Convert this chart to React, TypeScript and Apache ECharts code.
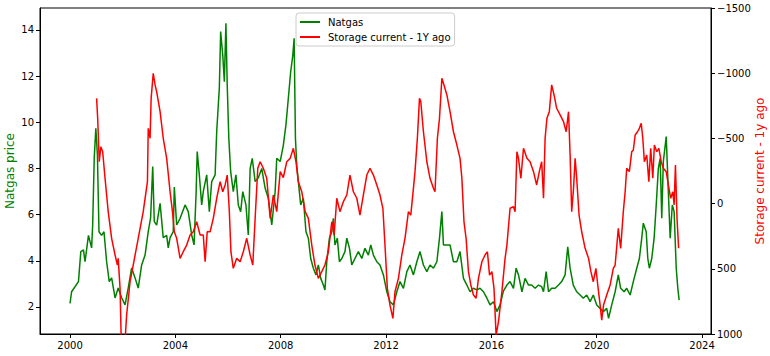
import React, { useEffect, useRef } from "react";
import * as echarts from "echarts";

// Natgas price (left axis)
const natgasYears = [
  2000.0, 2000.06, 2000.32, 2000.41, 2000.51, 2000.57, 2000.7, 2000.82, 2000.86, 2000.92, 2000.98,
  2001.04, 2001.1, 2001.2, 2001.29, 2001.39, 2001.49, 2001.58, 2001.71, 2001.83, 2001.96,
  2002.09, 2002.21, 2002.34, 2002.47, 2002.59, 2002.72, 2002.85, 2002.97,
  2003.06, 2003.14, 2003.2, 2003.29, 2003.42, 2003.54, 2003.67, 2003.73, 2003.8, 2003.92, 2003.96,
  2004.05, 2004.18, 2004.37, 2004.49, 2004.62, 2004.71, 2004.79, 2004.83, 2004.91,
  2005.0, 2005.06, 2005.19, 2005.29, 2005.38, 2005.51, 2005.57, 2005.67, 2005.72, 2005.8, 2005.86, 2005.92, 2005.97,
  2006.03, 2006.1, 2006.2, 2006.3, 2006.39, 2006.48, 2006.56, 2006.68, 2006.77, 2006.84, 2006.92,
  2007.03, 2007.15, 2007.28, 2007.41, 2007.53, 2007.66, 2007.79, 2007.85, 2007.98,
  2008.1, 2008.2, 2008.29, 2008.38, 2008.46, 2008.51, 2008.56, 2008.61, 2008.67, 2008.76, 2008.86, 2008.96,
  2009.05, 2009.14, 2009.24, 2009.34, 2009.43, 2009.52, 2009.62, 2009.68, 2009.75, 2009.85, 2009.94,
  2010.0, 2010.06, 2010.15, 2010.23, 2010.32, 2010.44, 2010.51, 2010.61, 2010.7, 2010.82, 2010.95,
  2011.08, 2011.2, 2011.33, 2011.42, 2011.52, 2011.65, 2011.77, 2011.9,
  2012.03, 2012.15, 2012.28, 2012.41, 2012.53, 2012.66, 2012.79, 2012.91,
  2013.04, 2013.17, 2013.29, 2013.42, 2013.55, 2013.67, 2013.8, 2013.93,
  2014.03, 2014.12, 2014.18, 2014.31, 2014.43, 2014.56, 2014.69, 2014.81, 2014.94,
  2015.07, 2015.19, 2015.32, 2015.45, 2015.57, 2015.7, 2015.83, 2015.95,
  2016.08, 2016.21, 2016.33, 2016.46, 2016.59, 2016.71, 2016.84, 2016.94,
  2017.03, 2017.16, 2017.28, 2017.41, 2017.53, 2017.66, 2017.79, 2017.91, 2017.98,
  2018.08, 2018.17, 2018.29, 2018.42, 2018.55, 2018.67, 2018.8, 2018.9, 2018.99,
  2019.11, 2019.24, 2019.37, 2019.49, 2019.62, 2019.75, 2019.87,
  2020.0, 2020.13, 2020.25, 2020.38, 2020.45, 2020.57, 2020.7, 2020.82, 2020.91,
  2021.04, 2021.14, 2021.27, 2021.39, 2021.52, 2021.62, 2021.71, 2021.77, 2021.88, 2021.94,
  2022.0, 2022.09, 2022.18, 2022.26, 2022.34, 2022.41, 2022.47, 2022.53, 2022.64, 2022.7, 2022.79, 2022.87, 2022.94,
  2023.02, 2023.08, 2023.13,
];
const natgasPrice = [
  2.16, 2.66, 3.1, 4.4, 4.47, 3.96, 5.1, 4.56, 5.55, 8.46, 9.74,
  8.6, 5.26, 5.1, 5.26, 3.96, 3.1, 3.26, 2.39, 2.82, 2.4,
  2.09, 2.82, 3.69, 3.26, 2.82, 3.82, 4.25, 5.26,
  5.86, 8.08, 5.7, 5.55, 6.49, 5.0, 5.1, 4.56, 5.0, 5.26, 7.2,
  5.55, 5.84, 6.42, 6.13, 5.12, 4.69, 7.0, 8.73, 7.72,
  6.42, 7.0, 7.72, 6.13, 7.43, 7.72, 9.6, 11.48, 13.93, 12.9, 11.76, 14.29, 11.6,
  9.3, 7.86, 7.0, 7.72, 6.42, 6.13, 7.0, 6.42, 5.12, 8.0, 8.44,
  7.43, 7.6, 8.0, 7.14, 6.71, 5.55, 7.0, 8.44, 8.3,
  9.0, 9.9, 11.04, 12.2, 12.9, 13.64, 9.3, 8.15, 7.43, 6.42, 6.71, 5.26,
  4.98, 4.1, 3.68, 3.39, 3.82, 3.24, 2.95, 2.74, 3.96, 4.98, 5.26,
  5.84, 4.69, 4.98, 3.96, 4.1, 4.4, 4.98, 4.55, 3.82, 4.1, 4.4,
  4.1, 4.54, 4.25, 4.69, 4.25, 3.96, 3.82, 3.39,
  2.66, 2.23, 2.09, 2.66, 3.1, 2.81, 3.53, 3.82,
  3.39, 3.96, 4.4, 3.82, 3.53, 3.82, 3.68, 3.96,
  4.98, 6.13, 4.69, 4.69, 4.69, 3.96, 3.96, 4.4, 3.24,
  2.95, 2.66, 2.81, 2.74, 2.81, 2.66, 2.38, 2.09,
  2.23, 1.8, 2.09, 2.7, 2.95, 3.1, 2.81, 3.68,
  3.39, 2.66, 3.24, 2.95, 2.95, 2.81, 2.95, 2.88, 2.66,
  3.53, 2.66, 2.81, 2.81, 2.95, 3.1, 3.39, 4.61, 3.68,
  2.95, 2.66, 2.52, 2.38, 2.52, 2.23, 2.52,
  2.09, 1.94, 1.8, 1.94, 1.51, 2.09, 2.66, 3.39, 2.81,
  2.66, 2.81, 2.52, 3.1, 3.68, 4.1, 4.98, 5.63, 5.26, 4.1,
  3.68, 4.1, 4.98, 6.42, 8.0, 8.44, 5.84, 8.3, 9.38, 7.58, 4.98, 6.42, 6.13,
  3.68, 2.81, 2.3,
];

// Storage current minus one year ago (right axis, inverted)
const storageYears = [
  2001.01, 2001.05, 2001.11, 2001.17, 2001.24, 2001.33, 2001.45, 2001.58, 2001.71, 2001.8, 2001.83, 2001.9, 2001.94,
  2002.01, 2002.09, 2002.15, 2002.28, 2002.4, 2002.59, 2002.78, 2002.94, 2002.97,
  2003.04, 2003.08, 2003.16, 2003.23, 2003.29, 2003.42, 2003.54, 2003.67, 2003.8, 2003.89, 2003.96,
  2004.05, 2004.18, 2004.3, 2004.43, 2004.56, 2004.68, 2004.81, 2004.94,
  2005.06, 2005.13, 2005.21, 2005.32, 2005.44, 2005.57, 2005.7, 2005.8, 2005.89, 2005.97,
  2006.05, 2006.11, 2006.2, 2006.33, 2006.46, 2006.58, 2006.71, 2006.84, 2006.94,
  2007.03, 2007.13, 2007.22, 2007.34, 2007.47, 2007.6, 2007.72, 2007.85, 2007.98,
  2008.1, 2008.23, 2008.36, 2008.48, 2008.58, 2008.67, 2008.8, 2008.93,
  2009.05, 2009.18, 2009.3, 2009.43, 2009.56, 2009.68, 2009.81, 2009.94,
  2010.03, 2010.13, 2010.25, 2010.38, 2010.51, 2010.63, 2010.76, 2010.89,
  2011.01, 2011.14, 2011.27, 2011.39, 2011.52, 2011.65, 2011.77, 2011.88, 2011.96,
  2012.05, 2012.15, 2012.26, 2012.34, 2012.47, 2012.6, 2012.72, 2012.85, 2012.94,
  2013.04, 2013.1, 2013.19, 2013.27, 2013.32, 2013.42, 2013.55, 2013.67, 2013.8, 2013.86, 2013.95,
  2014.03, 2014.12, 2014.2, 2014.31, 2014.43, 2014.56, 2014.69, 2014.81, 2014.88, 2014.96,
  2015.04, 2015.13, 2015.22, 2015.32, 2015.42, 2015.51, 2015.64, 2015.76, 2015.85, 2015.93,
  2016.02, 2016.1, 2016.18, 2016.27, 2016.4, 2016.52, 2016.59, 2016.71, 2016.84, 2016.9, 2016.97,
  2017.03, 2017.12, 2017.22, 2017.35, 2017.47, 2017.6, 2017.72, 2017.82, 2017.91, 2017.98,
  2018.04, 2018.11, 2018.2, 2018.29, 2018.38, 2018.48, 2018.61, 2018.74, 2018.84, 2018.93, 2018.99,
  2019.05, 2019.12, 2019.18, 2019.24, 2019.33, 2019.43, 2019.56, 2019.69, 2019.78, 2019.87, 2019.97,
  2020.04, 2020.13, 2020.19, 2020.26, 2020.38, 2020.51, 2020.63, 2020.7, 2020.82, 2020.91,
  2021.01, 2021.08, 2021.14, 2021.24, 2021.33, 2021.39, 2021.46, 2021.55, 2021.62, 2021.69, 2021.75, 2021.81, 2021.9, 2021.98,
  2022.05, 2022.13, 2022.19, 2022.28, 2022.36, 2022.45, 2022.53, 2022.64, 2022.72, 2022.81, 2022.89, 2022.94, 2022.99,
  2023.05, 2023.11,
];
const storageDiff = [
  -807, -654, -321, -436, -398, -194, 62, 266, 394, 471, 420, 650, 1010,
  1080, 1050, 854, 599, 471, 266, 62, -168, -577,
  -501, -807, -999, -910, -858, -705, -501, -347, -91, 62, 216,
  266, 420, 369, 318, 241, 216, 139, 241,
  241, 446, 216, 216, 113, -41, -168, -91, -143, -219,
  62, 369, 496, 420, 446, 369, 266, 394, 471,
  113, -271, -321, -271, -194, 113, -66, 62, -245,
  -200, -321, -347, -424, -321, -168, -91, 62,
  113, 318, 471, 573, 522, 471, 369, 139,
  241, -41, 62, -15, -66, -219, -91, -41,
  88, -66, -219, -271, -219, -143, -66, 36, 318,
  650, 778, 880, 676, 573, 394, 266, 62, 88,
  -117, -245, -501, -807, -782, -551, -321, -194, -117, -91, -501,
  -654, -961, -910, -833, -705, -551, -449, -347, -194, 139,
  266, 522, 624, 701, 726, 573, 446, 394, 369, 548,
  522, 650, 1010, 906, 676, 420, 318, 36, 24, 62, -398,
  -347, -194, -424, -347, -321, -245, -143, -245, -321, -41,
  -501, -654, -705, -910, -833, -731, -680, -628, -551, -705, -373,
  62, -117, -347, -194, 88, 216, 343, 420, 522, 599, 496,
  624, 778, 893, 778, 701, 624, 496, 471, 190, 343,
  62, -91, -271, -245, -398, -411, -526, -551, -577, -616, -501, -321, -373, -168,
  -424, -194, -449, -398, -424, -321, -271, -245, -143, -41, -91, 11, -296,
  113, 343,
];

const yearTicks = [2000, 2004, 2008, 2012, 2016, 2020, 2024];
const priceTicks = [2, 4, 6, 8, 10, 12, 14];

const FONT = "DejaVu Sans";

export default function App() {
  const ref = useRef<HTMLDivElement>(null);

  useEffect(() => {
    document.body.style.margin = "0";
    if (!ref.current) return;
    const chart = echarts.init(ref.current, undefined, { renderer: "svg" });
    const natgasData = natgasYears.map((x, i) => [x, natgasPrice[i]]);
    const storageData = storageYears.map((x, i) => [x, storageDiff[i]]);
    const tickLabel = { color: "#000", fontFamily: FONT, fontSize: 10 };

    chart.setOption({
      animation: false,
      backgroundColor: "#fff",
      textStyle: { fontFamily: FONT },
      grid: {
        left: 40,
        right: 59,
        top: 8,
        bottom: 22,
        containLabel: false,
        outerBoundsMode: "none",
        show: true,
        borderColor: "#000",
        borderWidth: 1,
        backgroundColor: "transparent",
      },
      legend: {
        orient: "vertical",
        left: 296,
        top: 13,
        padding: [3, 4, 3, 4],
        itemGap: 3,
        itemWidth: 20,
        itemHeight: 2,
        icon: "rect",
        backgroundColor: "rgba(255,255,255,0.8)",
        borderColor: "#cccccc",
        borderWidth: 1,
        borderRadius: 3,
        textStyle: { color: "#000", fontFamily: FONT, fontSize: 10, lineHeight: 12, padding: [0, 0, 0, 3] },
        data: ["Natgas", "Storage current - 1Y ago"],
      },
      xAxis: {
        type: "value",
        min: 1998.86,
        max: 2024.34,
        axisLine: { show: true, onZero: false, lineStyle: { color: "#000" } },
        axisTick: { show: true, length: 4, customValues: yearTicks, lineStyle: { color: "#000" } },
        axisLabel: { ...tickLabel, margin: 6, customValues: yearTicks, formatter: (v: number) => String(v) },
        splitLine: { show: false },
      },
      yAxis: [
        {
          type: "value",
          position: "left",
          min: 0.83,
          max: 14.95,
          name: "Natgas price",
          nameLocation: "middle",
          nameGap: 24,
          nameMoveOverlap: false,
          nameTextStyle: { color: "green", fontFamily: FONT, fontSize: 12 },
          axisLine: { show: true, onZero: false, lineStyle: { color: "#000" } },
          axisTick: { show: true, length: 4, customValues: priceTicks, lineStyle: { color: "#000" } },
          axisLabel: { ...tickLabel, margin: 6, customValues: priceTicks, formatter: (v: number) => String(v) },
          splitLine: { show: false },
        },
        {
          type: "value",
          position: "right",
          inverse: true,
          min: -1500,
          max: 1000,
          interval: 500,
          name: "Storage current - 1y ago",
          nameLocation: "middle",
          nameGap: 43,
          nameMoveOverlap: false,
          nameTextStyle: { color: "red", fontFamily: FONT, fontSize: 12 },
          axisLine: { show: true, onZero: false, lineStyle: { color: "#000" } },
          axisTick: { show: true, length: 4, lineStyle: { color: "#000" } },
          axisLabel: {
            ...tickLabel,
            margin: 6,
            formatter: (v: number) => String(v).replace("-", "\u2212"),
          },
          splitLine: { show: false },
        },
      ],
      series: [
        {
          name: "Natgas",
          type: "line",
          yAxisIndex: 0,
          data: natgasData,
          symbol: "none",
          clip: true,
          lineStyle: { color: "green", width: 1.5 },
          itemStyle: { color: "green" },
        },
        {
          name: "Storage current - 1Y ago",
          type: "line",
          yAxisIndex: 1,
          data: storageData,
          symbol: "none",
          clip: true,
          lineStyle: { color: "red", width: 1.5 },
          itemStyle: { color: "red" },
        },
      ],
    });

    return () => chart.dispose();
  }, []);

  return <div ref={ref} style={{ width: 770, height: 356 }} />;
}
